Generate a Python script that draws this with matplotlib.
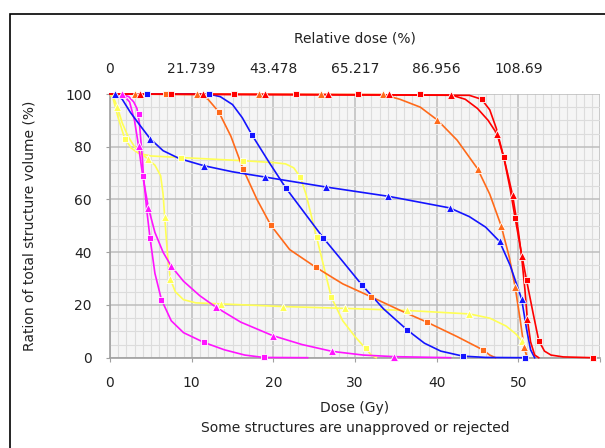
import numpy as np
import matplotlib.pyplot as plt
from matplotlib.patches import Rectangle
from matplotlib.ticker import MultipleLocator

# dose (Gy) / volume (%) read from the DVH
red_sq_dose = [0, 44, 45.5, 46.5, 47.3, 48.2, 49.0, 49.6, 50.3, 51.0, 51.8, 52.5, 53.2, 54.0, 55.5, 59.1]
red_sq_vol = [100, 99.5, 98, 94, 87, 76.2, 64, 53.1, 41, 29.5, 17, 6.5, 2.5, 1, 0.3, 0]
red_sq_mdose = [7.5, 15.2, 22.8, 30.4, 38.0, 45.5, 48.2, 49.6, 51.0, 52.5, 59.1]
red_sq_mvol = [100, 100, 100, 100, 100, 98, 76.2, 53.1, 29.5, 6.5, 0]

red_tri_dose = [0, 41.8, 43.5, 45.0, 46.3, 47.4, 48.3, 49.3, 50.0, 50.4, 50.8, 51.1, 51.5, 52.0, 52.5]
red_tri_vol = [100, 99.6, 98, 94.5, 90, 84.8, 75, 61.6, 48, 38.4, 26, 14.7, 6, 1, 0]
red_tri_mdose = [3.7, 11.4, 19.0, 26.7, 34.2, 41.7, 47.4, 49.3, 50.4, 51.1]
red_tri_mvol = [100, 100, 100, 100, 100, 99.6, 84.8, 61.6, 38.4, 14.7]

org_tri_dose = [0, 33.4, 35.5, 38, 40.1, 42.5, 45.0, 46.5, 47.9, 48.9, 49.6, 50.2, 50.7, 51.1]
org_tri_vol = [100, 99.8, 98, 95, 90.1, 82.5, 71.7, 62, 50, 38, 27, 15, 3.9, 0]
org_tri_mdose = [3.0, 10.6, 18.2, 25.8, 33.4, 40.1, 45.0, 47.9, 49.6, 50.7]
org_tri_mvol = [100, 100, 100, 100, 100, 90.1, 71.7, 50.0, 27.0, 3.9]

org_sq_dose = [0, 11, 12, 13.3, 14.8, 16.3, 18, 19.7, 22, 25.2, 28.5, 31.9, 35.5, 38.8, 42.5, 45.7, 46.5, 47.2]
org_sq_vol = [100, 99.8, 98, 93.3, 84, 71.5, 60, 50.2, 41, 34.3, 28, 23.2, 18, 13.5, 8, 2.9, 1, 0]
org_sq_mdose = [6.8, 13.3, 16.3, 19.7, 25.2, 31.9, 38.8, 45.7]
org_sq_mvol = [100, 93.3, 71.5, 50.2, 34.3, 23.2, 13.5, 2.9]

blue_sq_dose = [0, 12.1, 13.5, 15, 16.2, 17.4, 19.5, 21.5, 23.8, 26.1, 28.5, 30.9, 33.5, 36.4, 38.5, 40.5, 43.2, 46, 50.8]
blue_sq_vol = [100, 100, 99, 96, 91, 84.4, 74, 64.5, 55, 45.5, 36.5, 27.4, 18.5, 10.5, 5.5, 2.5, 0.6, 0.1, 0]
blue_sq_mdose = [4.5, 12.1, 17.4, 21.5, 26.1, 30.9, 36.4, 43.2, 50.8]
blue_sq_mvol = [100, 100, 84.4, 64.5, 45.5, 27.4, 10.5, 0.6, 0]

blue_tri_dose = [0, 0.6, 1.5, 2.5, 3.7, 4.9, 6.5, 8.5, 11.5, 15, 19.0, 26.5, 34.1, 41.6, 44, 46, 47.7, 49, 50.4, 51.0, 51.5, 52.0]
blue_tri_vol = [100, 100, 98, 93, 88, 83.1, 78.5, 75.5, 72.8, 70.5, 68.5, 64.7, 61.2, 56.8, 53.5, 49.5, 44.1, 35, 22.3, 11, 3, 0]
blue_tri_mdose = [0.6, 4.9, 11.5, 19.0, 26.5, 34.1, 41.6, 47.7, 50.4]
blue_tri_mvol = [100, 83.1, 72.8, 68.5, 64.7, 61.2, 56.8, 44.1, 22.3]

yel_sq_dose = [0, 0.4, 1.0, 1.8, 2.6, 3.5, 5, 8.7, 12.5, 16.3, 20, 21.5, 22.5, 23.3, 24.0, 25.3, 27.1, 28.5, 30, 31.3, 32.0, 32.6]
yel_sq_vol = [100, 98, 91, 83.1, 79.5, 77.5, 76.5, 75.9, 75.3, 74.7, 74, 73.5, 72, 68.5, 62, 45.7, 22.9, 14, 8, 3.5, 1, 0]
yel_sq_mdose = [1.8, 8.7, 16.3, 23.3, 25.3, 27.1, 31.3]
yel_sq_mvol = [83.1, 75.9, 74.7, 68.5, 45.7, 22.9, 3.5]

yel_tri_dose = [0, 0.4, 0.9, 1.5, 2.2, 3.0, 3.8, 4.6, 5.5, 6.2, 6.5, 6.7, 6.9, 7.1, 7.4, 8.0, 9.0, 10.5, 13.6,
                21.2, 28.8, 36.4, 44.0, 46.5, 48.5, 49.7, 50.4, 50.8, 51.1]
yel_tri_vol = [100, 99, 95, 89, 84, 80, 77.5, 75.4, 73, 69, 62, 53.3, 45, 37, 29.7, 25, 22, 20.8, 20.4,
               19.4, 18.7, 17.9, 16.6, 15, 12, 9, 6.5, 3, 0]
yel_tri_mdose = [0.9, 4.6, 6.7, 7.4, 13.6, 21.2, 28.8, 36.4, 44.0, 50.4]
yel_tri_mvol = [95, 75.4, 53.3, 29.7, 20.4, 19.4, 18.7, 17.9, 16.6, 6.5]

mag_sq_dose = [0, 1.4, 2.3, 2.9, 3.3, 3.6, 3.9, 4.1, 4.5, 4.9, 5.5, 6.3, 7.5, 9.0, 11.5, 14, 16.5, 18.8, 24.2]
mag_sq_vol = [100, 100, 99, 97, 94.5, 89, 78, 68.9, 56, 45.4, 32, 22.0, 14, 9.5, 5.8, 3, 1, 0.1, 0]
mag_sq_mdose = [3.5, 4.1, 4.9, 6.3, 11.5, 18.8]
mag_sq_mvol = [92.6, 68.9, 45.4, 22.0, 5.8, 0.1]

mag_tri_dose = [0, 1.5, 2.4, 3.0, 3.5, 4.0, 4.7, 5.5, 6.5, 7.5, 9.0, 11, 13.0, 16, 19.9, 23.5, 27.2, 31, 34.8, 41.7]
mag_tri_vol = [100, 100, 97, 90, 80.2, 69, 56.9, 47.5, 40, 34.7, 29, 23.5, 19.1, 13.5, 8.4, 5, 2.4, 1, 0.4, 0]
mag_tri_mdose = [1.5, 3.5, 4.7, 7.5, 13.0, 19.9, 27.2, 34.8]
mag_tri_mvol = [100, 80.2, 56.9, 34.7, 19.1, 8.4, 2.4, 0.4]

bottom_ticks = [0, 10, 20, 30, 40, 50, 60]
bottom_labels = ["0", "10", "20", "30", "40", "50", ""]
top_ticks = [0, 10, 20, 30, 40, 50]
top_labels = ["0", "21.739", "43.478", "65.217", "86.956", "108.69"]

RED = '#ff0000'
ORANGE = '#ff6a1a'
YELLOW = '#ffff55'
BLUE = '#1414ff'
MAGENTA = '#ff14ff'

curvas = [
    (yel_sq_dose, yel_sq_vol, yel_sq_mdose, yel_sq_mvol, YELLOW, 's'),
    (yel_tri_dose, yel_tri_vol, yel_tri_mdose, yel_tri_mvol, YELLOW, '^'),
    (mag_sq_dose, mag_sq_vol, mag_sq_mdose, mag_sq_mvol, MAGENTA, 's'),
    (mag_tri_dose, mag_tri_vol, mag_tri_mdose, mag_tri_mvol, MAGENTA, '^'),
    (org_sq_dose, org_sq_vol, org_sq_mdose, org_sq_mvol, ORANGE, 's'),
    (org_tri_dose, org_tri_vol, org_tri_mdose, org_tri_mvol, ORANGE, '^'),
    (blue_sq_dose, blue_sq_vol, blue_sq_mdose, blue_sq_mvol, BLUE, 's'),
    (blue_tri_dose, blue_tri_vol, blue_tri_mdose, blue_tri_mvol, BLUE, '^'),
    (red_tri_dose, red_tri_vol, red_tri_mdose, red_tri_mvol, RED, '^'),
    (red_sq_dose, red_sq_vol, red_sq_mdose, red_sq_mvol, RED, 's'),
]

plt.rcParams['font.family'] = 'DejaVu Sans'
plt.rcParams['font.size'] = 10
cor_texto = '#222222'

fig = plt.figure(figsize=(6.05, 4.48), dpi=100)
ax = fig.add_axes([110 / 605, 1 - 357.7 / 448, 490 / 605, (357.7 - 94) / 448])
ax.set_facecolor('#f5f5f5')

for d, v, md, mv, cor, mk in curvas:
    ax.plot(d, v, color=cor, lw=1.2, clip_on=False, zorder=3)
    ms = 6 if mk == '^' else 5
    ax.plot(md, mv, linestyle='none', marker=mk, ms=ms, color=cor,
            mec='white', mew=0.6, clip_on=False, zorder=4)

ax.set_xlim(0, 60)
ax.set_ylim(0, 100)
ax.set_xticks(bottom_ticks, bottom_labels)
ax.xaxis.set_minor_locator(MultipleLocator(1))
ax.yaxis.set_major_locator(MultipleLocator(20))
ax.yaxis.set_minor_locator(MultipleLocator(5))
ax.grid(which='major', color='#bdbdbd', lw=1.1)
ax.grid(which='minor', color='#dcdcdc', lw=0.8)
ax.set_axisbelow(True)

for s in ['top', 'right']:
    ax.spines[s].set_visible(False)
for s in ['left', 'bottom']:
    ax.spines[s].set_color('#a0a0a0')
    ax.spines[s].set_linewidth(1.2)

ax.tick_params(which='major', length=3, color='#a0a0a0', labelcolor=cor_texto)
ax.tick_params(axis='x', which='major', pad=10)
ax.tick_params(axis='y', which='major', pad=10)
ax.tick_params(which='minor', length=0)

ax.set_xlabel('Dose (Gy)', color=cor_texto, labelpad=8)
ax.set_ylabel('Ration of total structure volume (%)', color=cor_texto)
ax.yaxis.set_label_coords(-0.15, 0.5)

topo = ax.secondary_xaxis('top')
topo.set_xticks(top_ticks)
topo.set_xticklabels(top_labels)
topo.tick_params(length=0, pad=13, labelcolor=cor_texto)
topo.spines['top'].set_visible(False)
topo.set_xlabel('Relative dose (%)', color=cor_texto, labelpad=14)

fig.text(355 / 605, 1 - 428 / 448, 'Some structures are unapproved or rejected',
         ha='center', va='center', color=cor_texto)

fig.add_artist(Rectangle((10 / 605, -0.1), 1.2, 1.1 - 14 / 448, transform=fig.transFigure,
                         fill=False, ec='black', lw=1.2))

fig.savefig('out.png', dpi=100)
